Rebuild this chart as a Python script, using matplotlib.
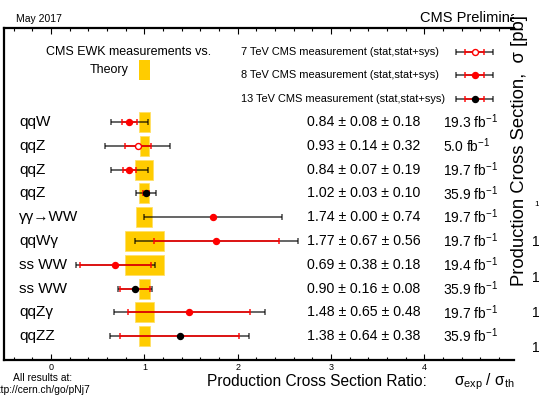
import matplotlib
matplotlib.use("Agg")
import matplotlib.pyplot as plt
import numpy as np
from matplotlib.transforms import Bbox, TransformedBbox

plt.rcParams["font.family"] = ["Liberation Sans", "DejaVu Sans"]
plt.rcParams["mathtext.fontset"] = "custom"
plt.rcParams["mathtext.rm"] = "Liberation Sans"
plt.rcParams["mathtext.it"] = "Liberation Sans:italic"

# EWK measurements, top to bottom
processes = ["qqW", "qqZ", "qqZ", "qqZ", "γγ→WW", "qqWγ", "ss WW", "ss WW", "qqZγ", "qqZZ"]
ratio = [0.84, 0.93, 0.84, 1.02, 1.74, 1.77, 0.69, 0.90, 1.48, 1.38]
stat = [0.08, 0.14, 0.07, 0.03, 0.00, 0.67, 0.38, 0.16, 0.65, 0.64]
syst = [0.18, 0.32, 0.19, 0.10, 0.74, 0.56, 0.18, 0.08, 0.48, 0.38]
lumi = ["19.3", "5.0", "19.7", "35.9", "19.7", "19.7", "19.4", "35.9", "19.7", "35.9"]
energy = [8, 7, 8, 13, 8, 8, 8, 13, 8, 13]
theory_unc = [0.06, 0.045, 0.095, 0.055, 0.085, 0.21, 0.21, 0.057, 0.10, 0.057]

legend_energies = [7, 8, 13]
legend_ratio = 4.54
legend_stat = 0.10
legend_total = 0.20

W, H = 539, 404
fig = plt.figure(figsize=(W / 100, H / 100), dpi=100)
ax = fig.add_axes([4 / W, 1 - 360 / H, 510 / W, (360 - 27.7) / H])
ax.set_xlim(-0.504, 4.962)
ax.set_ylim(0, 13.96)


def marker_style(e):
    if e == 7:
        return dict(color="red", mfc="white", mec="red", mew=1.0)
    if e == 8:
        return dict(color="red", mfc="red", mec="red")
    return dict(color="black", mfc="black", mec="black")


def draw_point(x, y, s, tot, e):
    ax.errorbar(x, y, xerr=tot, fmt="none", ecolor="black", alpha=0.65,
                elinewidth=1.3, capsize=2.3, capthick=1.2, zorder=3)
    ax.errorbar(x, y, xerr=s, fmt="none", ecolor="red", alpha=0.85,
                elinewidth=1.3, capsize=2.3, capthick=1.2, zorder=4)
    ax.plot(x, y, "o", ms=4.3, zorder=5, **marker_style(e))


n = len(processes)
ys = np.arange(n, 0, -1)
total = np.sqrt(np.array(stat) ** 2 + np.array(syst) ** 2)

# theory bands around 1
for y, u in zip(ys, theory_unc):
    ax.barh(y, 2 * u, left=1 - u, height=0.84, color="#ffcc00",
            edgecolor="#ffe066", linewidth=0.6, zorder=1)

for y, r, s, t, e, name, sy, lu in zip(ys, ratio, stat, total, energy,
                                       processes, syst, lumi):
    draw_point(r, y, s, t, e)
    ax.text(-0.343, y, name, fontsize=11, va="center", ha="left")
    ax.text(2.744, y, f"{r:.2f} ± {s:.2f} ± {sy:.2f}", fontsize=10.2,
            va="center", ha="left")
    ax.text(4.2, y, lu + r" fb$^{-1}$", fontsize=10, va="center", ha="left")

# legend
for y, e in zip([12.94, 11.97, 10.97], legend_energies):
    draw_point(legend_ratio, y, legend_stat, legend_total, e)
    ax.text(2.036, y, f"{e} TeV CMS measurement (stat,stat+sys)",
            fontsize=7.9, va="center", ha="left")

ax.text(0.836, 12.94, "CMS EWK measurements vs.", fontsize=9, ha="center", va="center")
ax.text(0.83, 12.18, "Theory", fontsize=9, ha="right", va="center")
ax.barh(12.18, 0.12, left=0.94, height=0.84, color="#ffcc00", zorder=1)

# frame and ticks
ax.spines["right"].set_visible(False)
for side in ["left", "top", "bottom"]:
    ax.spines[side].set_linewidth(1.6)
ax.set_yticks([])
ax.set_xticks([0, 1, 2, 3, 4])
ax.set_xticks(np.arange(-0.4, 4.95, 0.2), minor=True)
ax.tick_params(axis="x", which="both", direction="in", top=True, bottom=True,
               labelsize=6.5, pad=2)
ax.tick_params(axis="x", which="major", length=4.5, width=0.8)
ax.tick_params(axis="x", which="minor", length=2.3, width=0.8)

fig.text(207 / W, 1 - 382 / H, "Production Cross Section Ratio:",
         fontsize=11.2, ha="left", va="center")
fig.text(454 / W, 1 - 382 / H, r"σ$_{\mathrm{exp}}$ / σ$_{\mathrm{th}}$",
         fontsize=11.2, ha="left", va="center")

fig.text(16 / W, 1 - 19 / H, "May 2017", fontsize=7.5, ha="left", va="center")
cms = fig.text(420 / W, 1 - 18 / H, "CMS Preliminary", fontsize=10.5,
               ha="left", va="center")
cms.set_clip_on(True)
cms.set_clip_box(TransformedBbox(Bbox([[0, 0], [514 / W, 1]]), fig.transFigure))

fig.text(520 / W, 1 - 151 / H, "Production Cross Section,  σ [pb]", fontsize=13.3,
         rotation=90, ha="center", va="center")
for yp in [242, 278, 313, 348]:
    fig.text(532 / W, 1 - yp / H, "1", fontsize=10, ha="left", va="center")
fig.text(534 / W, 1 - 204 / H, "1", fontsize=6, ha="left", va="center")

fig.text(43 / W, 1 - 378 / H, "All results at:", fontsize=7.4, ha="center", va="center")
fig.text(90 / W, 1 - 390 / H, "http://cern.ch/go/pNj7", fontsize=7.4,
         ha="right", va="center")

fig.savefig("out.png", dpi=100)
